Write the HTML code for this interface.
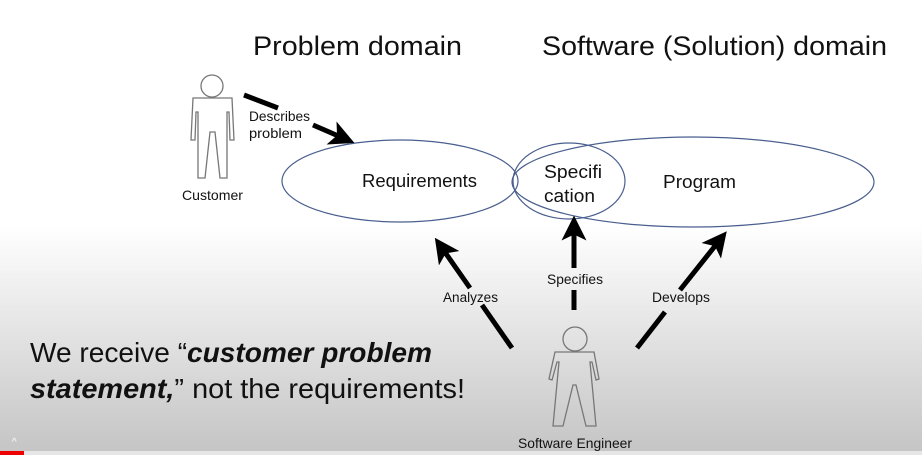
<!DOCTYPE html>
<html><head><style>
html,body{margin:0;padding:0;width:922px;height:455px;overflow:hidden}
body{background:linear-gradient(to bottom,#fff 0,#fff 225px,#ececec 300px,#d2d2d2 400px,#c4c4c4 455px)}
svg{position:absolute;left:0;top:0}
text{font-family:"Liberation Sans",sans-serif;fill:#111}
</style></head><body>
<svg width="922" height="455" viewBox="0 0 922 455">
<defs>
<marker id="ah" markerWidth="5" markerHeight="5" refX="2.5" refY="2.5" orient="auto" markerUnits="strokeWidth">
<path d="M0,0 L5,2.5 L0,5 L1.2,2.5 z" fill="#000"/></marker>
</defs>
<text x="253" y="55" font-size="27" textLength="209" lengthAdjust="spacingAndGlyphs">Problem domain</text>
<text x="542" y="55" font-size="27" textLength="345" lengthAdjust="spacingAndGlyphs">Software (Solution) domain</text>

<ellipse cx="400" cy="181" rx="118" ry="41" fill="none" stroke="#4a5f8f" stroke-width="1.2"/>
<ellipse cx="693" cy="182" rx="181" ry="45" fill="none" stroke="#4a5f8f" stroke-width="1.2"/>
<ellipse cx="569" cy="181" rx="56" ry="38" fill="none" stroke="#4a5f8f" stroke-width="1.2"/>
<text x="362" y="187" font-size="18" textLength="115" lengthAdjust="spacingAndGlyphs">Requirements</text>
<text x="663" y="188" font-size="18" textLength="73" lengthAdjust="spacingAndGlyphs">Program</text>
<text x="544" y="178" font-size="18" textLength="58" lengthAdjust="spacingAndGlyphs">Specifi</text>
<text x="544" y="202" font-size="18" textLength="51" lengthAdjust="spacingAndGlyphs">cation</text>

<g fill="none" stroke="#777" stroke-width="1.3">
<circle cx="212" cy="86" r="11"/>
<path d="M193,98 L232,98 L234,140 L230,140 L229,112 L227,112 L227,178 L220,178 L215,132 L210,132 L205,178 L198,178 L198,112 L196,112 L195,140 L191,140 Z"/>
<circle cx="575" cy="339" r="12"/>
<path d="M555,352 L594,352 L599,379 L596,380 L592,362 L590,362 L596,426 L586,426 L576,385 L573,385 L563,426 L553,426 L559,362 L557,362 L552,380 L549,379 Z"/>
</g>
<text x="182" y="200" font-size="14" textLength="61" lengthAdjust="spacingAndGlyphs">Customer</text>
<text x="518" y="448" font-size="14" textLength="114" lengthAdjust="spacingAndGlyphs">Software Engineer</text>

<g stroke="#000" stroke-width="5" fill="none">
<line x1="244" y1="95" x2="278" y2="108"/>
<line x1="313" y1="125" x2="343" y2="138" marker-end="url(#ah)"/>
<line x1="512" y1="348" x2="482" y2="305"/>
<line x1="470" y1="288" x2="442" y2="248" marker-end="url(#ah)"/>
<line x1="574" y1="310" x2="574" y2="290"/>
<line x1="574" y1="268" x2="574" y2="228" marker-end="url(#ah)"/>
<line x1="637" y1="348" x2="665" y2="312"/>
<line x1="680" y1="290" x2="719" y2="241" marker-end="url(#ah)"/>
</g>
<text x="249" y="121" font-size="13.5" textLength="61" lengthAdjust="spacingAndGlyphs">Describes</text>
<text x="249" y="138" font-size="13.5" textLength="53" lengthAdjust="spacingAndGlyphs">problem</text>
<text x="443" y="302" font-size="13.5" textLength="55" lengthAdjust="spacingAndGlyphs">Analyzes</text>
<text x="547" y="284" font-size="13.5" textLength="56" lengthAdjust="spacingAndGlyphs">Specifies</text>
<text x="652" y="302" font-size="13.5" textLength="58" lengthAdjust="spacingAndGlyphs">Develops</text>

<text x="30" y="362" font-size="28" textLength="402" lengthAdjust="spacingAndGlyphs">We receive “<tspan font-weight="bold" font-style="italic">customer problem</tspan></text>
<text x="30" y="398" font-size="28" textLength="435" lengthAdjust="spacingAndGlyphs"><tspan font-weight="bold" font-style="italic">statement,</tspan>” not the requirements!</text>

<rect x="0" y="451" width="922" height="4" fill="#e6e6e6"/>
<rect x="0" y="451" width="24" height="4" fill="#e00"/>
<text x="12" y="445" font-size="10" style="fill:#fff">^</text>
</svg>
</body></html>
